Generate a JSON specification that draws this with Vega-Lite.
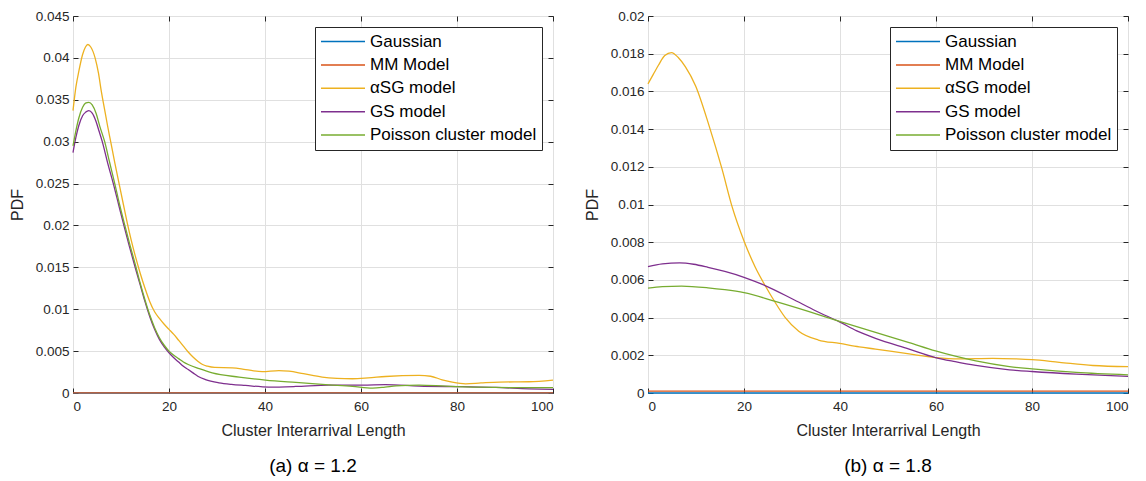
{
  "$schema": "https://vega.github.io/schema/vega-lite/v6.json",
  "padding": {"left": 8, "top": 8, "right": 5, "bottom": 2},
  "background": "white",
  "datasets": {
    "a": [
      {"s": "Gaussian", "x": 0, "y": 0}, {"s": "Gaussian", "x": 100, "y": 0},
      {"s": "MM Model", "x": 0, "y": 0.00002}, {"s": "MM Model", "x": 100, "y": 0.00002},
      {"s": "αSG model", "x": 0, "y": 0.0337}, {"s": "αSG model", "x": 0.6, "y": 0.0365}, {"s": "αSG model", "x": 1.25, "y": 0.0385}, {"s": "αSG model", "x": 2, "y": 0.0404}, {"s": "αSG model", "x": 2.6, "y": 0.0413}, {"s": "αSG model", "x": 3.1, "y": 0.0416}, {"s": "αSG model", "x": 3.7, "y": 0.0413}, {"s": "αSG model", "x": 4.6, "y": 0.0400}, {"s": "αSG model", "x": 5.3, "y": 0.0382}, {"s": "αSG model", "x": 5.9, "y": 0.0360}, {"s": "αSG model", "x": 6.5, "y": 0.0341}, {"s": "αSG model", "x": 7.2, "y": 0.0319}, {"s": "αSG model", "x": 7.85, "y": 0.0300}, {"s": "αSG model", "x": 8.7, "y": 0.0275}, {"s": "αSG model", "x": 9.6, "y": 0.0250}, {"s": "αSG model", "x": 10.5, "y": 0.0225}, {"s": "αSG model", "x": 11.3, "y": 0.0203}, {"s": "αSG model", "x": 12.1, "y": 0.0183}, {"s": "αSG model", "x": 13, "y": 0.0163}, {"s": "αSG model", "x": 14, "y": 0.0143}, {"s": "αSG model", "x": 15, "y": 0.0125}, {"s": "αSG model", "x": 16, "y": 0.0109}, {"s": "αSG model", "x": 17, "y": 0.0097}, {"s": "αSG model", "x": 18, "y": 0.0089}, {"s": "αSG model", "x": 19, "y": 0.0082}, {"s": "αSG model", "x": 20, "y": 0.0076}, {"s": "αSG model", "x": 21, "y": 0.0070}, {"s": "αSG model", "x": 22, "y": 0.0063}, {"s": "αSG model", "x": 23, "y": 0.0056}, {"s": "αSG model", "x": 24, "y": 0.0049}, {"s": "αSG model", "x": 25, "y": 0.0043}, {"s": "αSG model", "x": 26, "y": 0.0038}, {"s": "αSG model", "x": 27, "y": 0.0034}, {"s": "αSG model", "x": 28, "y": 0.0032}, {"s": "αSG model", "x": 29.5, "y": 0.00305}, {"s": "αSG model", "x": 33.2, "y": 0.0030}, {"s": "αSG model", "x": 36, "y": 0.0028}, {"s": "αSG model", "x": 39.4, "y": 0.00256}, {"s": "αSG model", "x": 42.9, "y": 0.00268}, {"s": "αSG model", "x": 45, "y": 0.0026}, {"s": "αSG model", "x": 48, "y": 0.0023}, {"s": "αSG model", "x": 51.9, "y": 0.0019}, {"s": "αSG model", "x": 55, "y": 0.00175}, {"s": "αSG model", "x": 58.2, "y": 0.0017}, {"s": "αSG model", "x": 61.5, "y": 0.0018}, {"s": "αSG model", "x": 65.1, "y": 0.00197}, {"s": "αSG model", "x": 72.1, "y": 0.0021}, {"s": "αSG model", "x": 74.5, "y": 0.0020}, {"s": "αSG model", "x": 76.9, "y": 0.00158}, {"s": "αSG model", "x": 79, "y": 0.0013}, {"s": "αSG model", "x": 81.8, "y": 0.0011}, {"s": "αSG model", "x": 85, "y": 0.0012}, {"s": "αSG model", "x": 88.8, "y": 0.0013}, {"s": "αSG model", "x": 95, "y": 0.00134}, {"s": "αSG model", "x": 100, "y": 0.00154},
      {"s": "GS model", "x": 0, "y": 0.0287}, {"s": "GS model", "x": 0.6, "y": 0.0305}, {"s": "GS model", "x": 1.2, "y": 0.0319}, {"s": "GS model", "x": 2, "y": 0.0331}, {"s": "GS model", "x": 2.6, "y": 0.0335}, {"s": "GS model", "x": 3.3, "y": 0.0337}, {"s": "GS model", "x": 4, "y": 0.0334}, {"s": "GS model", "x": 4.8, "y": 0.0324}, {"s": "GS model", "x": 5.4, "y": 0.0313}, {"s": "GS model", "x": 6.1, "y": 0.0300}, {"s": "GS model", "x": 7.2, "y": 0.0275}, {"s": "GS model", "x": 8.4, "y": 0.0250}, {"s": "GS model", "x": 9.5, "y": 0.0225}, {"s": "GS model", "x": 10.6, "y": 0.0200}, {"s": "GS model", "x": 11.7, "y": 0.0176}, {"s": "GS model", "x": 12.9, "y": 0.0151}, {"s": "GS model", "x": 14, "y": 0.0129}, {"s": "GS model", "x": 15, "y": 0.0109}, {"s": "GS model", "x": 16, "y": 0.0091}, {"s": "GS model", "x": 17, "y": 0.0076}, {"s": "GS model", "x": 18, "y": 0.0064}, {"s": "GS model", "x": 19, "y": 0.0055}, {"s": "GS model", "x": 20, "y": 0.0048}, {"s": "GS model", "x": 21, "y": 0.0042}, {"s": "GS model", "x": 22, "y": 0.0037}, {"s": "GS model", "x": 23, "y": 0.0032}, {"s": "GS model", "x": 24, "y": 0.0028}, {"s": "GS model", "x": 25, "y": 0.0024}, {"s": "GS model", "x": 26, "y": 0.0020}, {"s": "GS model", "x": 27.6, "y": 0.0016}, {"s": "GS model", "x": 30.4, "y": 0.00122}, {"s": "GS model", "x": 33, "y": 0.00103}, {"s": "GS model", "x": 35.9, "y": 0.0009}, {"s": "GS model", "x": 40.8, "y": 0.00071}, {"s": "GS model", "x": 46.4, "y": 0.00078}, {"s": "GS model", "x": 53.3, "y": 0.00095}, {"s": "GS model", "x": 60.3, "y": 0.00095}, {"s": "GS model", "x": 65.1, "y": 0.001}, {"s": "GS model", "x": 72.1, "y": 0.00083}, {"s": "GS model", "x": 81.1, "y": 0.00075}, {"s": "GS model", "x": 88.1, "y": 0.00067}, {"s": "GS model", "x": 95, "y": 0.0005}, {"s": "GS model", "x": 100, "y": 0.00043},
      {"s": "Poisson cluster model", "x": 0, "y": 0.0295}, {"s": "Poisson cluster model", "x": 0.6, "y": 0.0313}, {"s": "Poisson cluster model", "x": 1.2, "y": 0.0328}, {"s": "Poisson cluster model", "x": 2, "y": 0.0341}, {"s": "Poisson cluster model", "x": 2.6, "y": 0.0346}, {"s": "Poisson cluster model", "x": 3.3, "y": 0.0347}, {"s": "Poisson cluster model", "x": 4, "y": 0.0344}, {"s": "Poisson cluster model", "x": 4.8, "y": 0.0334}, {"s": "Poisson cluster model", "x": 5.6, "y": 0.0318}, {"s": "Poisson cluster model", "x": 6.6, "y": 0.0300}, {"s": "Poisson cluster model", "x": 7.6, "y": 0.0276}, {"s": "Poisson cluster model", "x": 8.7, "y": 0.0250}, {"s": "Poisson cluster model", "x": 9.7, "y": 0.0225}, {"s": "Poisson cluster model", "x": 10.8, "y": 0.0200}, {"s": "Poisson cluster model", "x": 11.9, "y": 0.0176}, {"s": "Poisson cluster model", "x": 13, "y": 0.0153}, {"s": "Poisson cluster model", "x": 14, "y": 0.0131}, {"s": "Poisson cluster model", "x": 15, "y": 0.0111}, {"s": "Poisson cluster model", "x": 16, "y": 0.0093}, {"s": "Poisson cluster model", "x": 17, "y": 0.0078}, {"s": "Poisson cluster model", "x": 18, "y": 0.0066}, {"s": "Poisson cluster model", "x": 19, "y": 0.0057}, {"s": "Poisson cluster model", "x": 20, "y": 0.0050}, {"s": "Poisson cluster model", "x": 21, "y": 0.0045}, {"s": "Poisson cluster model", "x": 22, "y": 0.0041}, {"s": "Poisson cluster model", "x": 23, "y": 0.0037}, {"s": "Poisson cluster model", "x": 24, "y": 0.0034}, {"s": "Poisson cluster model", "x": 26.3, "y": 0.0029}, {"s": "Poisson cluster model", "x": 29, "y": 0.0024}, {"s": "Poisson cluster model", "x": 34.6, "y": 0.0019}, {"s": "Poisson cluster model", "x": 40.1, "y": 0.00154}, {"s": "Poisson cluster model", "x": 46.4, "y": 0.00126}, {"s": "Poisson cluster model", "x": 53.3, "y": 0.00098}, {"s": "Poisson cluster model", "x": 58.2, "y": 0.00079}, {"s": "Poisson cluster model", "x": 62.4, "y": 0.00058}, {"s": "Poisson cluster model", "x": 65, "y": 0.0007}, {"s": "Poisson cluster model", "x": 67.3, "y": 0.00085}, {"s": "Poisson cluster model", "x": 72.1, "y": 0.00095}, {"s": "Poisson cluster model", "x": 77.6, "y": 0.00082}, {"s": "Poisson cluster model", "x": 84.6, "y": 0.00069}, {"s": "Poisson cluster model", "x": 91.5, "y": 0.00064}, {"s": "Poisson cluster model", "x": 100, "y": 0.00063}
    ],
    "b": [
      {"s": "Gaussian", "x": 0, "y": 0}, {"s": "Gaussian", "x": 100, "y": 0},
      {"s": "MM Model", "x": 0, "y": 0.0001}, {"s": "MM Model", "x": 100, "y": 0.0001},
      {"s": "αSG model", "x": 0, "y": 0.0164}, {"s": "αSG model", "x": 1.1, "y": 0.0169}, {"s": "αSG model", "x": 2.2, "y": 0.0174}, {"s": "αSG model", "x": 3.5, "y": 0.0179}, {"s": "αSG model", "x": 4.9, "y": 0.01806}, {"s": "αSG model", "x": 6.3, "y": 0.0178}, {"s": "αSG model", "x": 7.8, "y": 0.0173}, {"s": "αSG model", "x": 9.9, "y": 0.0163}, {"s": "αSG model", "x": 12.7, "y": 0.0142}, {"s": "αSG model", "x": 15.4, "y": 0.0119}, {"s": "αSG model", "x": 17.5, "y": 0.0099}, {"s": "αSG model", "x": 20.1, "y": 0.0080}, {"s": "αSG model", "x": 22.3, "y": 0.0067}, {"s": "αSG model", "x": 24.4, "y": 0.0057}, {"s": "αSG model", "x": 26.5, "y": 0.0048}, {"s": "αSG model", "x": 28.6, "y": 0.0040}, {"s": "αSG model", "x": 31.4, "y": 0.00328}, {"s": "αSG model", "x": 35.5, "y": 0.00281}, {"s": "αSG model", "x": 39.9, "y": 0.00263}, {"s": "αSG model", "x": 44, "y": 0.00245}, {"s": "αSG model", "x": 47.4, "y": 0.00233}, {"s": "αSG model", "x": 54.4, "y": 0.00207}, {"s": "αSG model", "x": 59.9, "y": 0.00188}, {"s": "αSG model", "x": 64.8, "y": 0.00181}, {"s": "αSG model", "x": 71.8, "y": 0.00184}, {"s": "αSG model", "x": 76.7, "y": 0.00181}, {"s": "αSG model", "x": 80, "y": 0.00177}, {"s": "αSG model", "x": 85.7, "y": 0.00163}, {"s": "αSG model", "x": 92.7, "y": 0.00146}, {"s": "αSG model", "x": 100, "y": 0.0014},
      {"s": "GS model", "x": 0, "y": 0.0067}, {"s": "GS model", "x": 3, "y": 0.00685}, {"s": "GS model", "x": 6.6, "y": 0.0069}, {"s": "GS model", "x": 9.5, "y": 0.00683}, {"s": "GS model", "x": 12.5, "y": 0.00667}, {"s": "GS model", "x": 16, "y": 0.00645}, {"s": "GS model", "x": 20, "y": 0.00614}, {"s": "GS model", "x": 24.4, "y": 0.0057}, {"s": "GS model", "x": 30, "y": 0.0050}, {"s": "GS model", "x": 35, "y": 0.00435}, {"s": "GS model", "x": 39.9, "y": 0.00377}, {"s": "GS model", "x": 43.5, "y": 0.0033}, {"s": "GS model", "x": 47.4, "y": 0.0029}, {"s": "GS model", "x": 54.4, "y": 0.00233}, {"s": "GS model", "x": 59.9, "y": 0.00188}, {"s": "GS model", "x": 64, "y": 0.00166}, {"s": "GS model", "x": 68.3, "y": 0.00146}, {"s": "GS model", "x": 75.3, "y": 0.00123}, {"s": "GS model", "x": 80, "y": 0.00114}, {"s": "GS model", "x": 89.2, "y": 0.001}, {"s": "GS model", "x": 100, "y": 0.00088},
      {"s": "Poisson cluster model", "x": 0, "y": 0.00556}, {"s": "Poisson cluster model", "x": 3, "y": 0.00564}, {"s": "Poisson cluster model", "x": 7, "y": 0.00567}, {"s": "Poisson cluster model", "x": 12.5, "y": 0.00558}, {"s": "Poisson cluster model", "x": 16, "y": 0.00548}, {"s": "Poisson cluster model", "x": 20, "y": 0.00532}, {"s": "Poisson cluster model", "x": 26.5, "y": 0.00486}, {"s": "Poisson cluster model", "x": 33.4, "y": 0.00433}, {"s": "Poisson cluster model", "x": 39.9, "y": 0.0038}, {"s": "Poisson cluster model", "x": 47.4, "y": 0.00321}, {"s": "Poisson cluster model", "x": 54.4, "y": 0.00267}, {"s": "Poisson cluster model", "x": 59.9, "y": 0.00223}, {"s": "Poisson cluster model", "x": 64, "y": 0.00195}, {"s": "Poisson cluster model", "x": 68.3, "y": 0.0017}, {"s": "Poisson cluster model", "x": 75.3, "y": 0.0014}, {"s": "Poisson cluster model", "x": 80, "y": 0.00128}, {"s": "Poisson cluster model", "x": 89.2, "y": 0.00109}, {"s": "Poisson cluster model", "x": 100, "y": 0.00096}
    ]
  },
  "hconcat": [
    {
      "width": 480,
      "height": 377,
      "title": {"text": "(a) α = 1.2", "orient": "bottom", "fontSize": 19, "fontWeight": "normal", "offset": 18, "color": "#000000"},
      "data": {"name": "a"},
      "resolve": {"axis": {"x": "independent", "y": "independent"}},
      "layer": [
        {
          "mark": {"type": "line", "strokeWidth": 1.3, "interpolate": "monotone"},
          "encoding": {
            "x": {"field": "x", "type": "quantitative", "scale": {"domain": [0, 100], "nice": false},
                  "axis": {"orient": "bottom", "values": [0, 20, 40, 60, 80, 100], "title": "Cluster Interarrival Length"}},
            "y": {"field": "y", "type": "quantitative", "scale": {"domain": [0, 0.045], "nice": false},
                  "axis": {"orient": "left", "values": [0, 0.005, 0.01, 0.015, 0.02, 0.025, 0.03, 0.035, 0.04, 0.045], "format": "~g", "title": "PDF"}},
            "color": {"field": "s", "type": "nominal",
                      "scale": {"domain": ["Gaussian", "MM Model", "αSG model", "GS model", "Poisson cluster model"], "range": ["#0072BD", "#D95319", "#EDB120", "#7E2F8E", "#77AC30"]},
                      "legend": {"title": null}}
          }
        },
        {
          "mark": {"type": "line", "opacity": 0},
          "encoding": {
            "x": {"field": "x", "type": "quantitative", "axis": {"orient": "top", "values": [0, 20, 40, 60, 80, 100], "labels": false, "title": null, "grid": false}},
            "y": {"field": "y", "type": "quantitative", "axis": {"orient": "right", "values": [0, 0.005, 0.01, 0.015, 0.02, 0.025, 0.03, 0.035, 0.04, 0.045], "labels": false, "title": null, "grid": false}},
            "detail": {"field": "s"}
          }
        }
      ]
    },
    {
      "width": 480,
      "height": 377,
      "title": {"text": "(b) α = 1.8", "orient": "bottom", "fontSize": 19, "fontWeight": "normal", "offset": 18, "color": "#000000"},
      "data": {"name": "b"},
      "resolve": {"axis": {"x": "independent", "y": "independent"}},
      "layer": [
        {
          "mark": {"type": "line", "strokeWidth": 1.3, "interpolate": "monotone"},
          "encoding": {
            "x": {"field": "x", "type": "quantitative", "scale": {"domain": [0, 100], "nice": false},
                  "axis": {"orient": "bottom", "values": [0, 20, 40, 60, 80, 100], "title": "Cluster Interarrival Length"}},
            "y": {"field": "y", "type": "quantitative", "scale": {"domain": [0, 0.02], "nice": false},
                  "axis": {"orient": "left", "values": [0, 0.002, 0.004, 0.006, 0.008, 0.01, 0.012, 0.014, 0.016, 0.018, 0.02], "format": "~g", "title": "PDF"}},
            "color": {"field": "s", "type": "nominal",
                      "scale": {"domain": ["Gaussian", "MM Model", "αSG model", "GS model", "Poisson cluster model"], "range": ["#0072BD", "#D95319", "#EDB120", "#7E2F8E", "#77AC30"]},
                      "legend": {"title": null}}
          }
        },
        {
          "mark": {"type": "line", "opacity": 0},
          "encoding": {
            "x": {"field": "x", "type": "quantitative", "axis": {"orient": "top", "values": [0, 20, 40, 60, 80, 100], "labels": false, "title": null, "grid": false}},
            "y": {"field": "y", "type": "quantitative", "axis": {"orient": "right", "values": [0, 0.002, 0.004, 0.006, 0.008, 0.01, 0.012, 0.014, 0.016, 0.018, 0.02], "labels": false, "title": null, "grid": false}},
            "detail": {"field": "s"}
          }
        }
      ]
    }
  ],
  "spacing": 26,
  "resolve": {"scale": {"color": "independent"}, "legend": {"color": "independent"}},
  "config": {
    "font": "Liberation Sans",
    "view": {"stroke": "#262626", "strokeWidth": 1},
    "axis": {
      "domain": false,
      "grid": true,
      "gridColor": "#e0e0e0",
      "gridWidth": 1,
      "tickColor": "#262626",
      "tickWidth": 1,
      "tickSize": -5,
      "labelPadding": 11,
      "labelFontSize": 13.5,
      "labelColor": "#262626",
      "titleFontSize": 16,
      "titleFontWeight": "normal",
      "titleColor": "#262626"
    },
    "axisX": {"titlePadding": 10},
    "axisY": {"titlePadding": 10, "labelPadding": 9},
    "legend": {
      "orient": "top-right",
      "offset": 11,
      "strokeColor": "#262626",
      "fillColor": "white",
      "padding": 5,
      "cornerRadius": 0,
      "labelFontSize": 17,
      "labelColor": "#000000",
      "labelLimit": 400,
      "labelOffset": 4,
      "symbolType": "stroke",
      "symbolSize": 1936,
      "symbolStrokeWidth": 1.5,
      "clipHeight": 19,
      "rowPadding": 4.4
    }
  }
}
